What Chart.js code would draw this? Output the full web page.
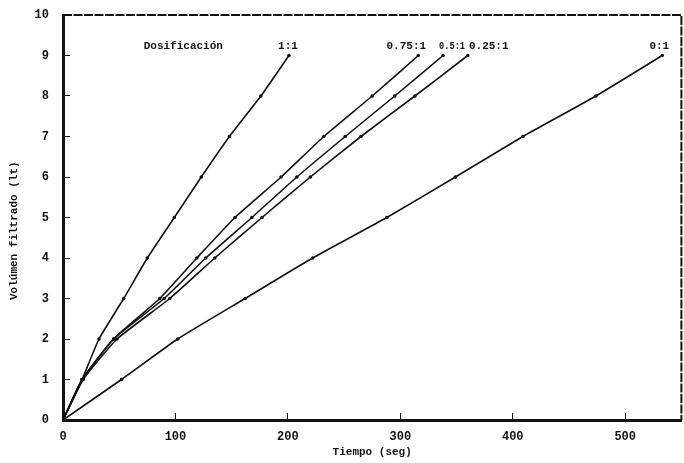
<!DOCTYPE html>
<html>
<head>
<meta charset="utf-8">
<script src="https://cdn.jsdelivr.net/npm/chart.js@4.4.1/dist/chart.umd.min.js"></script>
<style>
  html,body{margin:0;padding:0;background:#fff;}
  #wrap{width:684px;height:463px;}
</style>
</head>
<body>
<div id="wrap"><canvas id="c" width="684" height="463"></canvas></div>
<script>
const volumen = [0, 1, 2, 3, 4, 5, 6, 7, 8, 9];
// tiempo (seg) para cada dosificacion
const t_1_1   = [0, 17, 32, 54, 75, 99, 123, 148, 176, 201];
const t_075_1 = [0, 17, 45, 86, 119, 153, 194, 232, 275, 316];
const t_05_1  = [0, 17, 45, 90, 127, 168, 208, 251, 295, 338];
const t_025_1 = [0, 18, 48, 95, 135, 177, 220, 265, 313, 360];
const t_0_1   = [0, 52, 102, 162, 222, 288, 349, 409, 474, 533];
const etiquetas = ['1:1', '0.75:1', '0.5:1', '0.25:1', '0:1'];
const xTicks = [0, 100, 200, 300, 400, 500];
const yTicks = [0, 1, 2, 3, 4, 5, 6, 7, 8, 9, 10];

const series = [t_1_1, t_075_1, t_05_1, t_025_1, t_0_1];
const pts = t => t.map((x, i) => ({x: x, y: volumen[i]}));

const FONT = '"Liberation Mono", "DejaVu Sans Mono", monospace';

const datasets = series.map((t, i) => ({
  label: etiquetas[i],
  data: pts(t),
  borderColor: '#111',
  backgroundColor: '#111',
  borderWidth: 1.6,
  pointRadius: 1,
  pointHoverRadius: 1,
  tension: 0.15
}));

// marco superior y derecho + textos de las curvas
const frame = {
  id: 'frame',
  afterDatasetsDraw(chart) {
    const {ctx, chartArea: a, scales} = chart;
    ctx.save();
    ctx.strokeStyle = '#111';
    ctx.lineWidth = 2;
    ctx.setLineDash([9, 1.5]);
    ctx.beginPath();
    ctx.moveTo(a.left, a.top);
    ctx.lineTo(a.right, a.top);
    ctx.lineTo(a.right, a.bottom);
    ctx.stroke();
    ctx.setLineDash([]);

    ctx.fillStyle = '#111';
    ctx.textAlign = 'center';
    ctx.textBaseline = 'middle';
    ctx.font = 'bold 11px ' + FONT;
    const dx = [-1, -12, 9, 21, -3];
    const maxW = [30, 44, 26, 40, 30];
    const yLab = scales.y.getPixelForValue(9) - 9;
    chart.data.datasets.forEach((d, i) => {
      const last = d.data[d.data.length - 1];
      ctx.fillText(d.label, scales.x.getPixelForValue(last.x) + dx[i], yLab, maxW[i]);
    });
    ctx.fillText('Dosificación', scales.x.getPixelForValue(107), yLab);
    ctx.restore();
  }
};

new Chart(document.getElementById('c'), {
  type: 'line',
  data: {datasets: datasets},
  plugins: [frame],
  options: {
    responsive: false,
    animation: false,
    layout: {padding: {top: 15, right: 1, left: 8, bottom: 0}},
    plugins: {legend: {display: false}, tooltip: {enabled: false}},
    scales: {
      x: {
        type: 'linear',
        min: 0,
        max: 550,
        afterBuildTicks: s => { s.ticks = xTicks.map(v => ({value: v})); },
        afterFit: s => { s.height = 43; s.paddingLeft = 0; s.paddingRight = 0; },
        ticks: {color: '#111', font: {family: FONT, size: 12, weight: 'bold'}, padding: 17, maxRotation: 0},
        grid: {display: true, drawOnChartArea: false, drawTicks: true, tickLength: -7, color: '#111', lineWidth: 1},
        border: {display: true, color: '#111', width: 3},
        title: {display: true, text: 'Tiempo (seg)', color: '#111', font: {family: FONT, size: 11, weight: 'bold'}, padding: {top: 0, bottom: 4}}
      },
      y: {
        type: 'linear',
        min: 0,
        max: 10,
        afterBuildTicks: s => { s.ticks = yTicks.map(v => ({value: v})); },
        afterFit: s => { s.width = 55; s.paddingTop = 0; s.paddingBottom = 0; },
        ticks: {color: '#111', font: {family: FONT, size: 12, weight: 'bold'}, padding: 21},
        grid: {display: true, drawOnChartArea: false, drawTicks: true, tickLength: -7, color: '#111', lineWidth: 1},
        border: {display: true, color: '#111', width: 3},
        title: {display: true, text: 'Volúmen filtrado (lt)    ', color: '#111', font: {family: FONT, size: 11, weight: 'bold'}, padding: {top: 0, bottom: 2}}
      }
    }
  }
});
</script>
</body>
</html>
